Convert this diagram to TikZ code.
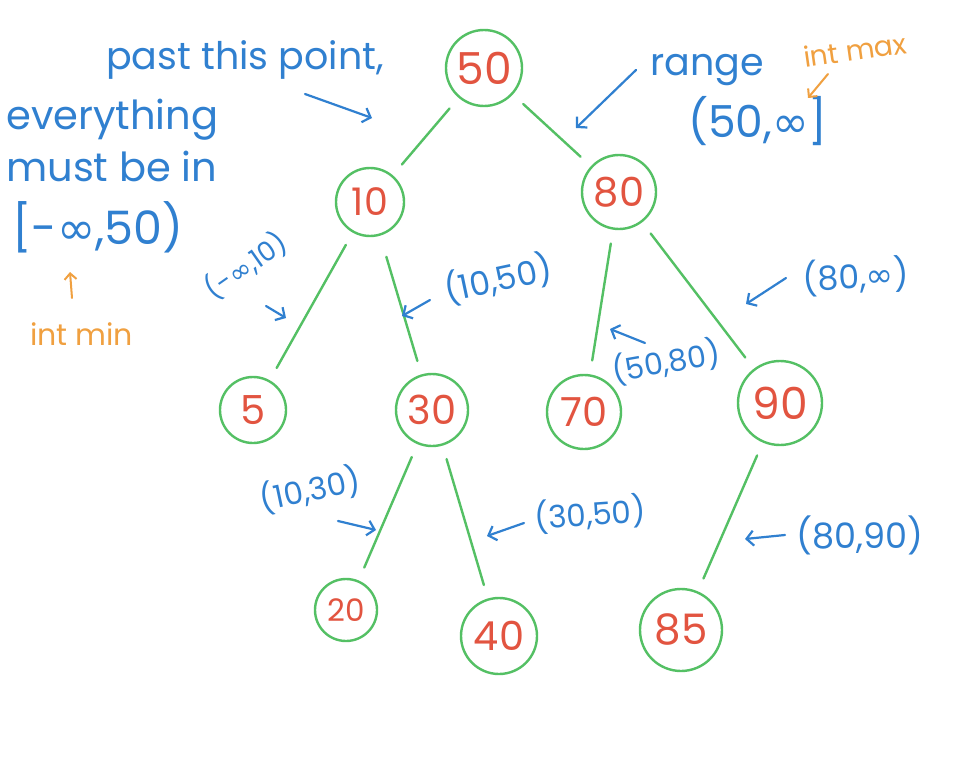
\documentclass[tikz,border=0pt]{standalone}
\usepackage{fontspec}
\setmainfont{Poppins}
\newfontfamily\symfont{DejaVu Sans}
\usetikzlibrary{arrows.meta}
\definecolor{leaf}{RGB}{84,192,100}
\definecolor{keyred}{RGB}{226,84,64}
\definecolor{ink}{RGB}{48,128,208}
\definecolor{note}{RGB}{240,160,64}
\newcommand{\infsym}{{\symfont ∞}}
\newcommand{\fs}[1]{\fontsize{#1}{#1}\selectfont}
\tikzset{
  key/.style={circle, draw=leaf, line width=2.4pt, text=keyred,
    font=\fs{40}, inner sep=0pt, minimum size=#1},
  branch/.style={draw=leaf, line width=2.4pt, line cap=round,
    shorten <=14pt, shorten >=14pt},
  hand/.style={text=ink, font=\fs{38}, inner sep=0pt},
  small/.style={text=ink, font=\fs{33}, inner sep=0pt},
  aside/.style={text=note, font=\fs{28}, inner sep=0pt},
  pointer/.style={draw=ink, line width=2.2pt, line cap=round,
    -{Straight Barb[length=7pt,width=15pt,line width=2.2pt]}},
  notepointer/.style={draw=note, line width=2pt, line cap=round,
    -{Straight Barb[length=6pt,width=12pt,line width=2pt]}},
}
\begin{document}
\begin{tikzpicture}[x=1pt, y=-1pt]
  \fill[white] (0,0) rectangle (959,765);
  \path[use as bounding box] (0,0) rectangle (959,765);

  % tree keys
  \node[key=76pt, font=\fs{44}] (n50) at (484,68) {50};
  \node[key=68pt, font=\fs{38}] (n10) at (370,202) {10};
  \node[key=74pt] (n80) at (619,192) {80};
  \node[key=66pt] (n5)  at (253,410) {5};
  \node[key=72pt] (n30) at (432,410) {30};
  \node[key=74pt] (n70) at (584,412) {70};
  \node[key=84pt, font=\fs{44}] (n90) at (780,403) {90};
  \node[key=62pt, font=\fs{31}] (n20) at (346,610) {20};
  \node[key=76pt] (n40) at (499,636) {40};
  \node[key=82pt, font=\fs{42}] (n85) at (681,630) {85};

  % branches
  \draw[branch] (n50) -- (n10);
  \draw[branch] (n50) -- (n80);
  \draw[branch] (n10) -- (n5);
  \draw[branch, shorten <=22pt] (n10) -- (n30);
  \draw[branch] (n80) -- (n70);
  \draw[branch] (n80) -- (n90);
  \draw[branch] (n30) -- (n20);
  \draw[branch] (n30) -- (n40);
  \draw[branch] (n90) -- (n85);

  % root annotation
  \node[hand] (past) at (245,60) {past this point,};
  \node[hand, font=\fs{40}, anchor=base west] (every) at (6,130) {everything};
  \node[hand, font=\fs{40}, anchor=base west] (must) at (6,182) {must be in};
  \node[hand, font=\fs{46}, anchor=base west] (lowrange) at (12,244) {[-\infsym,50)};
  \coordinate (pastA) at (305,94);
  \coordinate (pastB) at (372,118);
  \draw[pointer] (pastA) -- (pastB);
  \node[aside, font=\fs{30}, anchor=base west] (intmin) at (30,345) {int min};
  \coordinate (minA) at (72,298);
  \coordinate (minB) at (70,272);
  \draw[notepointer] (minA) -- (minB);

  \node[hand, anchor=base west] (range) at (650,76) {range};
  \node[hand, font=\fs{44}, anchor=base west] (highrange) at (688,138) {(50,\infsym]};
  \coordinate (rangeA) at (636,70);
  \coordinate (rangeB) at (576,128);
  \draw[pointer] (rangeA) -- (rangeB);
  \node[aside, rotate=8] (intmax) at (855,50) {int max};
  \coordinate (maxA) at (828,74);
  \coordinate (maxB) at (808,98);
  \draw[notepointer] (maxA) -- (maxB);

  % ranges on the branches
  \node[small, rotate=35, font=\fs{27}] (r5) at (246,266) {(-\infsym,10)};
  \coordinate (r5A) at (266,306);
  \coordinate (r5B) at (286,318);
  \draw[pointer] (r5A) -- (r5B);

  \node[small, rotate=12] (r30) at (498,279) {(10,50)};
  \coordinate (r30A) at (430,300);
  \coordinate (r30B) at (402,316);
  \draw[pointer] (r30A) -- (r30B);

  \node[small, font=\fs{30}, rotate=10] (r70) at (666,362) {(50,80)};
  \coordinate (r70A) at (645,343);
  \coordinate (r70B) at (610,329);
  \draw[pointer] (r70A) -- (r70B);

  \node[small, rotate=3] (r90) at (856,276) {(80,\infsym)};
  \coordinate (r90A) at (786,278);
  \coordinate (r90B) at (746,304);
  \draw[pointer] (r90A) -- (r90B);

  \node[small, font=\fs{31}, rotate=12] (r20) at (310,490) {(10,30)};
  \coordinate (r20A) at (338,521);
  \coordinate (r20B) at (376,530);
  \draw[pointer] (r20A) -- (r20B);

  \node[small, font=\fs{31}, rotate=4] (r40) at (590,514) {(30,50)};
  \coordinate (r40A) at (524,523);
  \coordinate (r40B) at (487,536);
  \draw[pointer] (r40A) -- (r40B);

  \node[small, font=\fs{35}] (r85) at (860,535) {(80,90)};
  \coordinate (r85A) at (785,535);
  \coordinate (r85B) at (745,539);
  \draw[pointer] (r85A) -- (r85B);
\end{tikzpicture}
\end{document}
